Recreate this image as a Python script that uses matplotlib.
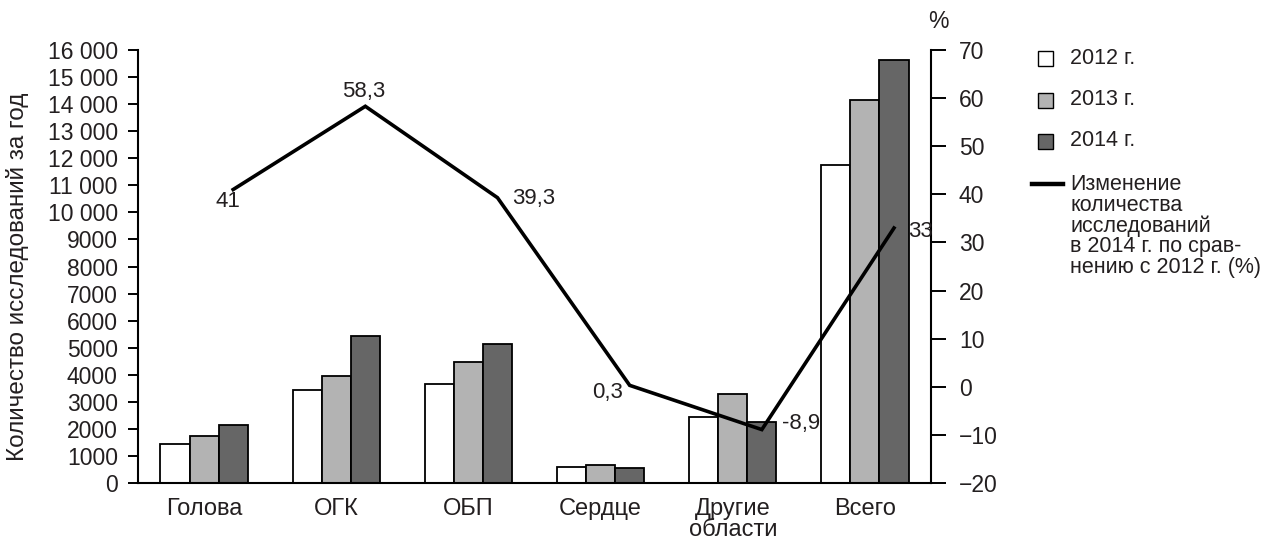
#!/usr/bin/env python3
import matplotlib
matplotlib.use("Agg")
import matplotlib.pyplot as plt
import numpy as np
from matplotlib.lines import Line2D
from matplotlib.patches import Rectangle
from matplotlib.ticker import FuncFormatter

plt.rcParams["font.family"] = ["Liberation Sans", "DejaVu Sans"]

categories = ["Голова", "ОГК", "ОБП", "Сердце", "Другие\nобласти", "Всего"]
years = ["2012 г.", "2013 г.", "2014 г."]
counts_2012 = [1450, 3450, 3670, 580, 2450, 11750]
counts_2013 = [1750, 3950, 4480, 660, 3280, 14150]
counts_2014 = [2150, 5450, 5120, 570, 2250, 15620]
change_pct = [41, 58.3, 39.3, 0.3, -8.9, 33]
change_labels = ["41", "58,3", "39,3", "0,3", "-8,9", "33"]
line_label = "Изменение\nколичества\nисследований\nв 2014 г. по срав-\nнению с 2012 г. (%)"

TEXT = "#231f20"
bar_colors = ["#ffffff", "#b3b3b3", "#666666"]
# label offsets in pixels from the line vertex
label_offsets = [(-5, -12), (-2, 15), (36, -1), (-22, -7), (39, 6), (26, -3)]

W, H = 1266, 540
fig = plt.figure(figsize=(W / 100, H / 100), dpi=100)
ax = fig.add_axes([138 / W, 1 - 483 / H, (931 - 138) / W, (483 - 50) / H])

x = np.arange(len(categories))
w = 0.22
for i, vals in enumerate([counts_2012, counts_2013, counts_2014]):
    ax.bar(x + (i - 1) * w, vals, width=w, color=bar_colors[i],
           edgecolor="black", linewidth=1.3, zorder=2)

ax.set_xlim(-0.5, 5.5)
ax.set_ylim(0, 16000)
ax.set_yticks(np.arange(0, 16001, 1000))
ax.yaxis.set_major_formatter(FuncFormatter(
    lambda v, _: f"{int(v):,}".replace(",", " ") if v >= 10000 else f"{int(v)}"))
ax.set_xticks(x)
ax.set_xticklabels(categories, fontsize=17, color=TEXT, linespacing=0.95)
ax.tick_params(axis="x", length=0, pad=11)
ax.tick_params(axis="y", length=7.5, width=1.4, pad=7, labelsize=16.5, labelcolor=TEXT)
for s in ["top", "right"]:
    ax.spines[s].set_visible(False)
for s in ["left", "bottom"]:
    ax.spines[s].set_linewidth(1.5)

ax2 = ax.twinx()
ax2.set_ylim(-20, 70)
ax2.set_yticks(np.arange(-20, 71, 10))
ax2.tick_params(axis="y", length=11, width=1.4, pad=9, labelsize=16.5, labelcolor=TEXT)
for s in ["top", "left", "bottom"]:
    ax2.spines[s].set_visible(False)
ax2.spines["right"].set_linewidth(1.5)

ax2.plot(x + w, change_pct, color="black", linewidth=2.6, zorder=3,
         solid_joinstyle="miter")
for xi, yi, lab, off in zip(x + w, change_pct, change_labels, label_offsets):
    ax2.annotate(lab, (xi, yi), xytext=off, textcoords="offset pixels",
                 ha="center", va="center", fontsize=16, color=TEXT)

fig.text(938 / W, 1 - 22 / H, "%", ha="center", va="center", fontsize=16.5, color=TEXT)
fig.text(18 / W, 1 - 277 / H, "Количество исследований за год", rotation=90,
         ha="center", va="center", fontsize=17.5, color=TEXT)

# legend drawn by hand to match the layout
for lab, col, yc in zip(years, bar_colors, [58.5, 100, 141]):
    fig.add_artist(Rectangle(((1038) / W, 1 - (yc + 7.5) / H), 15 / W, 15 / H,
                             transform=fig.transFigure, facecolor=col,
                             edgecolor="black", linewidth=1.0))
    fig.text(1070 / W, 1 - yc / H, lab, ha="left", va="center", fontsize=15.5, color=TEXT)
fig.add_artist(Line2D([1032 / W, 1063 / W], [1 - 184 / H, 1 - 184 / H],
                      transform=fig.transFigure, color="black", linewidth=3.2))
fig.text(1070 / W, 1 - 174 / H, line_label, ha="left", va="top",
         fontsize=15.5, color=TEXT, linespacing=0.97)

fig.savefig("out.png", dpi=100)
